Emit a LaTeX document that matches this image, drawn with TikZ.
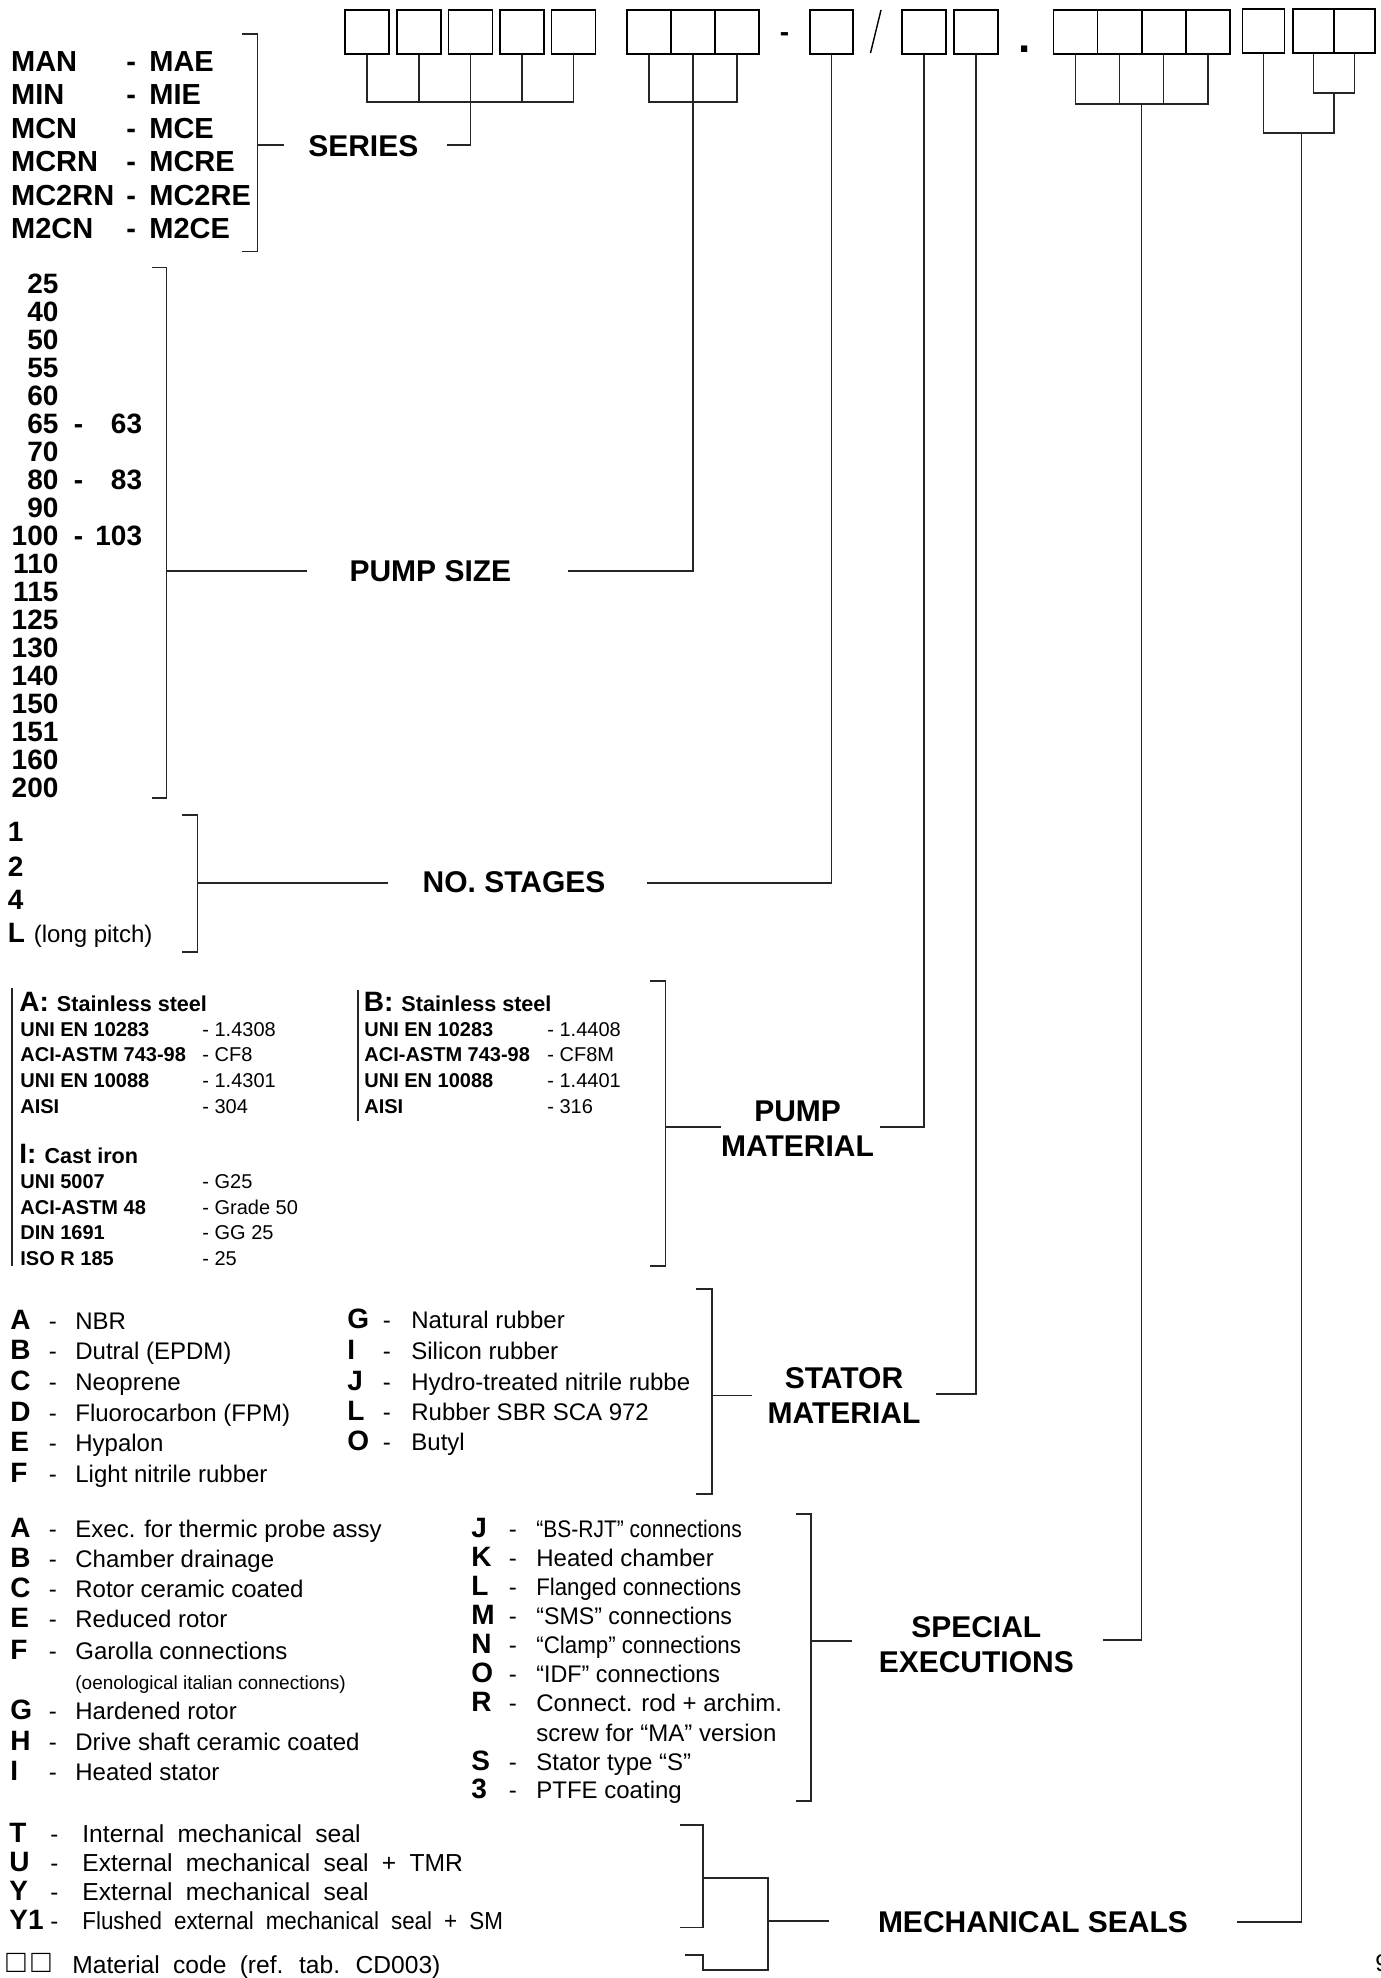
\documentclass[tikz,border=0pt]{standalone}
\usepackage{fontspec}
\setmainfont{Liberation Sans}
\usepackage{graphicx}
\usetikzlibrary{positioning}
\tikzset{
  cell/.style ={draw=black, line width=0.8pt, minimum width=22pt, minimum height=22pt, inner sep=0pt},
  wire/.style ={line width=0.65pt, black!85},
  head/.style ={font=\bfseries\fontsize{15}{17.5}\selectfont, align=center, inner sep=0pt},
  txt/.style  ={inner sep=0pt, anchor=mid west},
  key/.style  ={txt, font=\bfseries\fontsize{14}{16}\selectfont},
  num/.style  ={inner sep=0pt, anchor=mid east, font=\bfseries\fontsize{14}{16}\selectfont},
  serrow/.style={txt, font=\bfseries\fontsize{14.5}{16}\selectfont},
  desc/.style ={txt, font=\fontsize{12}{14}\selectfont},
  descr/.style={txt, font=\fontsize{12}{14}\selectfont},
  tlab/.style ={txt, font=\bfseries\fontsize{10}{12}\selectfont},
  tval/.style ={txt, font=\fontsize{10}{12}\selectfont},
  ttl/.style  ={inner sep=0pt, anchor=base west},
  wide/.style ={txt, font={\fontsize{12.3}{14}\selectfont\spaceskip=0.54em\relax}},
}
\begin{document}
\begin{tikzpicture}[x=0.5pt, y=-0.5pt]
  \useasboundingbox[fill=white] (0,0) rectangle (1381,1978);

  % code boxes
  \foreach \x [count=\i] in {367,419,470.5,522,573.5}
    \node[cell] (s\i) at (\x,32) {};
  \foreach \x [count=\i] in {649,693,737}
    \node[cell] (p\i) at (\x,32) {};
  \node[cell, minimum width=21.5pt] (n1) at (831.5,32) {};
  \node[cell] (m1) at (924,32) {};
  \node[cell] (m2) at (976,32) {};
  \foreach \x [count=\i] in {1075.4,1119.6,1163.8,1208}
    \node[cell] (e\i) at (\x,32) {};
  \node[cell, minimum width=21pt] (k1) at (1263.5,31) {};
  \node[cell, minimum width=20.5pt] (k2) at (1313.5,31) {};
  \node[cell, minimum width=20.5pt] (k3) at (1354.5,31) {};
  \node[inner sep=0pt, anchor=base, font=\bfseries\fontsize{14}{16}\selectfont] (dash) at (784.5,41) {-};
  \node[inner sep=0pt, anchor=base, font=\bfseries\fontsize{22}{24}\selectfont] (dot) at (1024.6,52) {.};
  \draw[line width=0.7pt] (870.5,53) -- (881,10);

  % headings
  \node[head] (series) at (363.3,146) {SERIES};
  \node[head] (psize)  at (430.4,571) {PUMP SIZE};
  \node[head] (nstage) at (514,882) {NO. STAGES};
  \node[head] (pmat)   at (797.6,1129) {PUMP\\MATERIAL};
  \node[head] (smat)   at (844,1395.5) {STATOR\\MATERIAL};
  \node[head] (spex)   at (976.3,1645) {SPECIAL\\EXECUTIONS};
  \node[head] (mseal)  at (1033,1922) {MECHANICAL SEALS};

  % free ends of the leaders
  \coordinate (serL) at (284,145);   \coordinate (serR) at (447,145);
  \coordinate (psL)  at (306.7,571); \coordinate (psR)  at (568,571);
  \coordinate (nsL)  at (388,883);   \coordinate (nsR)  at (647,883);
  \coordinate (pmL)  at (721,1127);  \coordinate (pmR)  at (880,1127);
  \coordinate (smL)  at (752,1395.5);\coordinate (smR)  at (935.5,1394);
  \coordinate (seL)  at (852,1641);  \coordinate (seR)  at (1103,1640);
  \coordinate (msL)  at (829,1921);  \coordinate (msR)  at (1237,1922);

  % stems from the boxes
  \coordinate (sj) at (470.5,102);
  \draw[wire] (s1.south) |- (s5.south |- sj) -- (s5.south);
  \foreach \i in {2,4} \draw[wire] (s\i.south) -- (s\i.south |- sj);
  \draw[wire] (s3.south) |- (serR);
  \coordinate (pj) at (693,102);
  \draw[wire] (p1.south) |- (p3.south |- pj) -- (p3.south);
  \draw[wire] (p2.south) |- (psR);
  \draw[wire] (n1.south) |- (nsR);
  \draw[wire] (m1.south) |- (pmR);
  \draw[wire] (m2.south) |- (smR);
  \coordinate (ej) at (1141.6,104);
  \draw[wire] (e1.south) |- (e4.south |- ej) -- (e4.south);
  \foreach \i in {2,3} \draw[wire] (e\i.south) -- (e\i.south |- ej);
  \draw[wire] (ej) |- (seR);
  \coordinate (kj) at (1334,93);
  \coordinate (kk) at (1301.7,133);
  \draw[wire] (k2.south) |- (k3.south |- kj) -- (k3.south);
  \draw[wire] (k1.south) |- (kj |- kk) -- (kj);
  \draw[wire] (kk) |- (msR);

  % brackets
  \draw[wire] (241.7,34) -| (257.3,251.7) -- (241.7,251.7);
  \draw[wire] (257.3,145) -- (serL);
  \draw[wire] (151.5,267.6) -| (166.7,798) -- (151.5,798);
  \draw[wire] (166.7,571) -- (psL);
  \draw[wire] (182,815) -| (197.5,952) -- (182,952);
  \draw[wire] (197.5,883) -- (nsL);
  \draw[wire] (650,981) -| (665.5,1266) -- (650,1266);
  \draw[wire] (665.5,1127) -- (pmL);
  \draw[wire] (695.5,1289) -| (712,1494) -- (695.5,1494);
  \draw[wire] (712,1395.5) -- (smL);
  \draw[wire] (796,1514) -| (811,1801) -- (796,1801);
  \draw[wire] (811,1641) -- (seL);
  \draw[wire] (680,1825) -| (703,1927.5) -- (680,1927.5);
  \draw[wire] (703,1878) -| (768,1970) -- (703,1970) -- (703,1955) -- (685,1955);
  \draw[wire] (768,1921) -- (msL);

  % series
  \foreach \a/\b [count=\i from 0] in {MAN/MAE, MIN/MIE, MCN/MCE, MCRN/MCRE, MC2RN/MC2RE, M2CN/M2CE}
    \node[serrow] (ser\i) at (10.7,{66+33.5*\i}) {\makebox[57.65pt][l]{\a}\makebox[11.5pt][l]{-}\b};

  % pump sizes
  \foreach \n [count=\i from 0] in {25,40,50,55,60,65,70,80,90,100,110,115,125,130,140,150,151,160,200}
    \node[num] (ps\n) at (58.8,{288.6+27.96*\i}) {\n};
  \foreach \i/\m in {5/63,7/83,9/103} {
    \node[key] (pd\m) at (73.5,{288.6+27.96*\i}) {-};
    \node[num] (pt\m) at (142.5,{288.6+27.96*\i}) {\m};
  }

  % stages
  \foreach \s/\y in {1/836,2/871,4/904,L/937}
    \node[key] (st\s) at (7.5,\y) {\s};
  \node[desc, anchor=base west] (pitch) at ([xshift=4pt]stL.base east) {(long pitch)};

  % pump material
  \draw[wire] (12,988) -- (12,1266);
  \draw[wire] (358,990) -- (358,1121);
  \node[ttl] (matA) at (19,1011) {\fontsize{14}{16}\selectfont\bfseries A:\hspace{4pt}\fontsize{10.8}{12}\selectfont Stainless steel};
  \node[ttl] (matB) at (363.5,1011) {\fontsize{14}{16}\selectfont\bfseries B:\hspace{4pt}\fontsize{10.8}{12}\selectfont Stainless steel};
  \node[ttl] (matI) at (19,1163.5) {\fontsize{14}{16}\selectfont\bfseries I:\hspace{4pt}\fontsize{10.8}{12}\selectfont Cast iron};
  \foreach \l/\v [count=\i from 0] in {UNI EN 10283/- 1.4308, ACI-ASTM 743-98/- CF8, UNI EN 10088/- 1.4301, AISI/- 304} {
    \node[tlab] (al\i) at (20,{1031+25.6*\i}) {\l};
    \node[tval] (av\i) at (202,{1031+25.6*\i}) {\v};
  }
  \foreach \l/\v [count=\i from 0] in {UNI EN 10283/- 1.4408, ACI-ASTM 743-98/- CF8M, UNI EN 10088/- 1.4401, AISI/- 316} {
    \node[tlab] (bl\i) at (364,{1031+25.6*\i}) {\l};
    \node[tval] (bv\i) at (547,{1031+25.6*\i}) {\v};
  }
  \foreach \l/\v [count=\i from 0] in {UNI 5007/- G25, ACI-ASTM 48/- Grade 50, DIN 1691/- GG 25, ISO R 185/- 25} {
    \node[tlab] (il\i) at (20,{1183+25.7*\i}) {\l};
    \node[tval] (iv\i) at (202,{1183+25.7*\i}) {\v};
  }

  % stator material
  \foreach \k/\t/\y in {A/NBR/1324.5, B/Dutral (EPDM)/1354.5, C/Neoprene/1384.7, D/Fluorocarbon (FPM)/1416, E/Hypalon/1446.4, F/Light nitrile rubber/1477} {
    \node[key]  (sk\k) at (10,\y) {\k};
    \node[desc] (sh\k) at (48.5,\y) {-};
    \node[desc] (sx\k) at (75,\y) {\t};
  }
  \foreach \k/\t/\y in {G/Natural rubber/1323.5, I/Silicon rubber/1354.5, J/Hydro-treated nitrile rubbe/1385, L/Rubber SBR SCA 972/1415.5, O/Butyl/1445} {
    \node[key]  (sk\k) at (347,\y) {\k};
    \node[desc] (sh\k) at (382.5,\y) {-};
    \node[desc] (sx\k) at (411,\y) {\t};
  }

  % special executions
  \foreach \k/\t/\y in {A/Exec. for thermic probe assy/1532, B/Chamber drainage/1562, C/Rotor ceramic coated/1592.5, E/Reduced rotor/1622.5, F/Garolla connections/1654, G/Hardened rotor/1714, H/Drive shaft ceramic coated/1745, I/Heated stator/1775.5} {
    \node[key]  (xk\k) at (10,\y) {\k};
    \node[desc] (xh\k) at (48.5,\y) {-};
    \node[desc] (xx\k) at (75,\y) {\t};
  }
  \node[txt, font=\fontsize{9.5}{11}\selectfont] (oeno) at (75,1684) {(oenological italian connections)};
  \foreach \k/\t/\y/\w in {J/“BS-RJT” connections/1532/0.875, K/Heated chamber/1561.5/1, L/Flanged connections/1590/0.925, M/“SMS” connections/1619/0.965, N/“Clamp” connections/1648/0.93, O/“IDF” connections/1677/0.97, R/Connect. rod + archim./1706/1, S/Stator type “S”/1765.5/1, 3/PTFE coating/1793.5/1} {
    \node[key]   (yk\k) at (471,\y) {\k};
    \node[descr] (yh\k) at (508.5,\y) {-};
    \node[descr] (yx\k) at (536,\y) {\scalebox{\w}[1]{\t}};
  }
  \node[descr] (screw) at (536,1736.5) {screw for “MA” version};

  % mechanical seals
  \foreach \k/\t/\y/\w in {T/Internal mechanical seal/1837.5/1, U/External mechanical seal + TMR/1866.5/1, Y/External mechanical seal/1895.5/1, Y1/Flushed external mechanical seal + SM/1924.5/0.91} {
    \node[key]  (mk\k) at (9,\y) {\k};
    \node[desc] (mh\k) at (50,\y) {-};
    \node[wide] (mx\k) at (82,\y) {\scalebox{\w}[1]{\t}};
  }
  \node[txt, font=\fontsize{16}{18}\selectfont] (sq1) at (6,1967) {□};
  \node[txt, font=\fontsize{16}{18}\selectfont] (sq2) at (31,1967) {□};
  \node[wide] (mcode) at (72,1968) {Material code (ref. tab. CD003)};
  \node[txt, font=\fontsize{12}{14}\selectfont] (pgno) at (1375,1966) {9};
\end{tikzpicture}
\end{document}
